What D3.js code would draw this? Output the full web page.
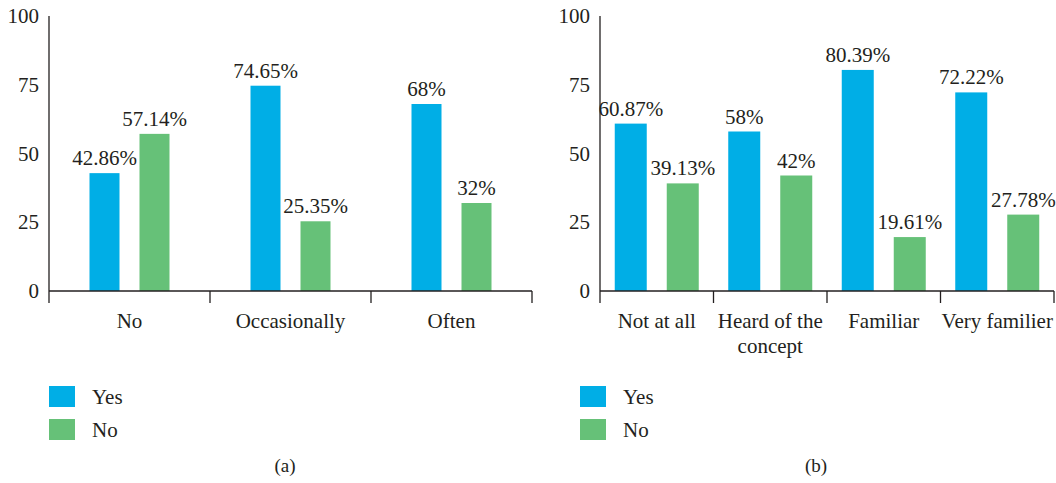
<!DOCTYPE html>
<html>
<head>
<meta charset="utf-8">
<script src="https://cdn.jsdelivr.net/npm/d3@7"></script>
</head>
<body style="margin:0">
<svg id="chart" width="1056" height="483"></svg>
<script>
// Panel (a): frequency groups
const categoriesA = [["No"], ["Occasionally"], ["Often"]];
const yesA = [42.86, 74.65, 68];
const noA = [57.14, 25.35, 32];
const labelsYesA = ["42.86%", "74.65%", "68%"];
const labelsNoA = ["57.14%", "25.35%", "32%"];

// Panel (b): familiarity groups
const categoriesB = [["Not at all"], ["Heard of the", "concept"], ["Familiar"], ["Very familier"]];
const yesB = [60.87, 58, 80.39, 72.22];
const noB = [39.13, 42, 19.61, 27.78];
const labelsYesB = ["60.87%", "58%", "80.39%", "72.22%"];
const labelsNoB = ["39.13%", "42%", "19.61%", "27.78%"];

const yTicks = [0, 25, 50, 75, 100];
const seriesNames = ["Yes", "No"];
const colors = ["#00aee6", "#66c178"];
const panelTitles = ["(a)", "(b)"];

const svg = d3.select("#chart");
const axisColor = "#231f20";
const textColor = "#231f20";
const fs = 21;

function addText(sel, x, y, size, str) {
  return sel.append("text")
    .attr("x", x).attr("y", y)
    .attr("font-size", size)
    .attr("font-family", "Liberation Serif")
    .style("font-family", '"Liberation Serif"')
    .style("fill", textColor)
    .text(str);
}

function drawPanel(opts) {
  const { x0, x1, yTop, yBottom, cats, yes, no, labYes, labNo, barW, offset, title, titleX, legendX } = opts;
  const y = d3.scaleLinear().domain([0, 100]).range([yBottom, yTop]);
  const x = d3.scaleBand().domain(d3.range(cats.length)).range([x0, x1]).padding(0);

  // y axis line and tick labels (no tick marks)
  svg.append("line").attr("x1", x0).attr("x2", x0).attr("y1", yTop).attr("y2", yBottom + 12)
    .attr("stroke", axisColor).attr("stroke-width", 1.3);
  yTicks.forEach(d => {
    addText(svg, x0 - 10, y(d) + 7, fs, d).attr("text-anchor", "end");
  });

  // bars with value labels
  const cx = i => x(i) + x.bandwidth() / 2;
  const series = [yes, no];
  const labels = [labYes, labNo];
  series.forEach((vals, s) => {
    const dx = s === 0 ? -offset : offset;
    vals.forEach((d, i) => {
      svg.append("rect")
        .attr("x", cx(i) + dx - barW / 2)
        .attr("y", y(d))
        .attr("width", barW)
        .attr("height", y(0) - y(d))
        .attr("fill", colors[s]);
      addText(svg, cx(i) + dx, y(d) - 8, fs, labels[s][i]).attr("text-anchor", "middle");
    });
  });

  // x axis baseline and boundary ticks
  svg.append("line").attr("x1", x0).attr("x2", x1).attr("y1", y(0)).attr("y2", y(0))
    .attr("stroke", axisColor).attr("stroke-width", 1.3);
  d3.range(1, cats.length + 1).forEach(i => {
    const xt = x0 + i * x.bandwidth();
    svg.append("line").attr("x1", xt).attr("x2", xt).attr("y1", y(0)).attr("y2", y(0) + 12)
      .attr("stroke", axisColor).attr("stroke-width", 1.3);
  });

  // category labels, one text per line
  cats.forEach((lines, i) => {
    lines.forEach((ln, k) => {
      addText(svg, cx(i), y(0) + 37 + k * 25, fs, ln).attr("text-anchor", "middle");
    });
  });

  // legend
  seriesNames.forEach((name, s) => {
    svg.append("rect").attr("x", legendX).attr("y", 386 + s * 33).attr("width", 26).attr("height", 21)
      .attr("fill", colors[s]);
    addText(svg, legendX + 43, 403.5 + s * 33, fs, name);
  });

  // panel caption
  addText(svg, titleX, 472, 19, title).attr("text-anchor", "middle");
}

drawPanel({ x0: 49, x1: 532, yTop: 16, yBottom: 291, cats: categoriesA, yes: yesA, no: noA,
  labYes: labelsYesA, labNo: labelsNoA, barW: 30, offset: 25, title: panelTitles[0], titleX: 285, legendX: 49 });
drawPanel({ x0: 600, x1: 1054, yTop: 16, yBottom: 291, cats: categoriesB, yes: yesB, no: noB,
  labYes: labelsYesB, labNo: labelsNoB, barW: 32, offset: 26, title: panelTitles[1], titleX: 816, legendX: 580 });
</script>
</body>
</html>
